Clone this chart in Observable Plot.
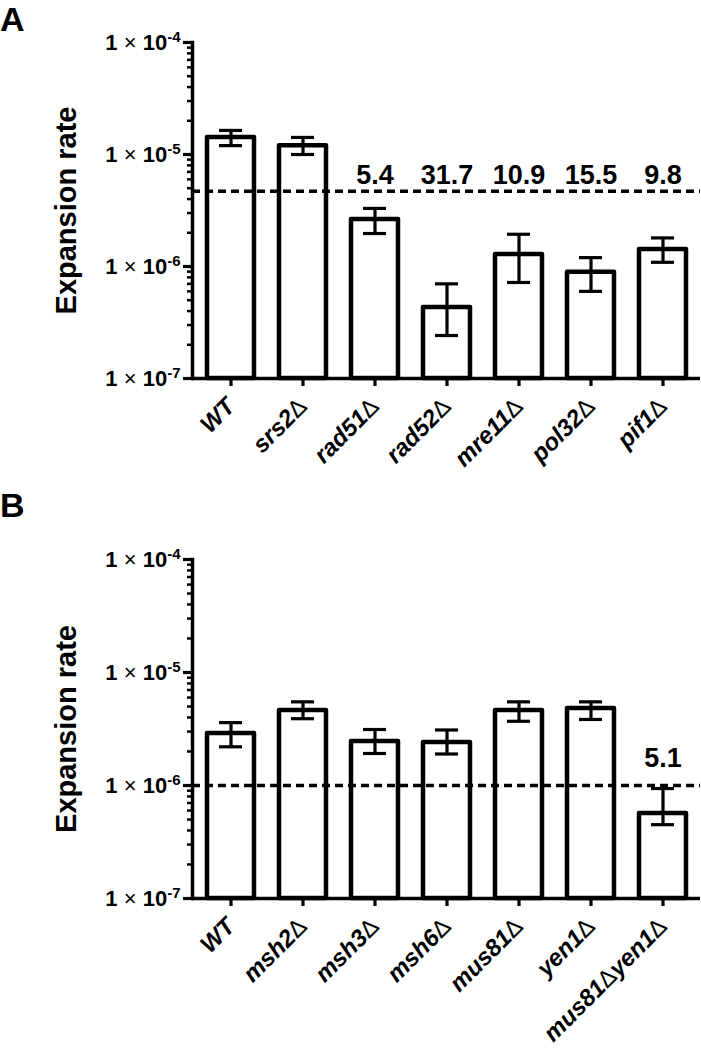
<!DOCTYPE html>
<html><head><meta charset="utf-8">
<script src="https://cdn.jsdelivr.net/npm/d3@7"></script>
<script src="https://cdn.jsdelivr.net/npm/@observablehq/plot@0.6"></script>
<style>
body{margin:0;background:#fff;}
#wrap{position:relative;width:701px;height:1050px;font-family:"Liberation Sans",Arial,sans-serif;overflow:hidden;}
.panel{position:absolute;left:0;}
.letter{position:absolute;left:0;font-family:"Liberation Sans",Arial,sans-serif;font-weight:bold;font-size:34px;line-height:normal;}
</style></head><body><div id="wrap"></div>
<script>
// ---- Panel A data ----
const strainsA = ["WT","srs2Δ","rad51Δ","rad52Δ","mre11Δ","pol32Δ","pif1Δ"];
const rateA    = [1.42e-5, 1.20e-5, 2.63e-6, 4.3e-7, 1.28e-6, 8.9e-7, 1.42e-6];
const lowA     = [1.20e-5, 1.00e-5, 1.97e-6, 2.42e-7, 7.2e-7, 6.0e-7, 1.09e-6];
const highA    = [1.64e-5, 1.42e-5, 3.30e-6, 7.0e-7, 1.94e-6, 1.20e-6, 1.80e-6];
const foldA    = ["", "", "5.4", "31.7", "10.9", "15.5", "9.8"];
const thresholdA = 4.7e-6;

// ---- Panel B data ----
const strainsB = ["WT","msh2Δ","msh3Δ","msh6Δ","mus81Δ","yen1Δ","mus81Δyen1Δ"];
const rateB    = [2.88e-6, 4.6e-6, 2.45e-6, 2.40e-6, 4.6e-6, 4.8e-6, 5.65e-7];
const lowB     = [2.20e-6, 3.9e-6, 1.92e-6, 1.90e-6, 3.7e-6, 3.84e-6, 4.5e-7];
const highB    = [3.60e-6, 5.5e-6, 3.13e-6, 3.10e-6, 5.5e-6, 5.5e-6, 9.4e-7];
const foldB    = ["", "", "", "", "", "", "5.1"];
const thresholdB = 1e-6;

// ---- axis ----
const yDomain = [1e-7, 1e-4];
const yTicks = [1e-7, 1e-6, 1e-5, 1e-4];
const yLabel = "Expansion rate";
const minorTicks = [];
for (const t of yTicks.slice(0, -1)) for (let m = 2; m <= 9; m++) minorTicks.push(m * t);

const FONT = '"Liberation Sans", Arial, sans-serif';

function makePanel(strains, rate, low, high, fold, threshold, opts) {
  const rows = strains.map((s, i) => ({strain: s, rate: rate[i], low: low[i], high: high[i], fold: fold[i]}));
  const svg = Plot.plot({
    width: 701, height: opts.height,
    marginLeft: 192, marginRight: 1, marginTop: opts.marginTop, marginBottom: opts.marginBottom,
    style: {fontFamily: FONT, background: "white", overflow: "visible", color: "black"},
    x: {domain: strains, paddingInner: 0.35, paddingOuter: 0.186},
    y: {type: "log", domain: yDomain},
    marks: [
      Plot.barY(rows, {x: "strain", y1: yDomain[0], y2: "rate", fill: "white", stroke: "black", strokeWidth: 4.5, strokeLinejoin: "round"}),
      Plot.ruleY([threshold], {stroke: "black", strokeWidth: 3.5, strokeDasharray: "8,5"}),
      Plot.ruleX(rows, {x: "strain", y1: "low", y2: "high", stroke: "black", strokeWidth: 3.2}),
      Plot.tickY(rows, {x: "strain", y: "low", insetLeft: 12, insetRight: 12, stroke: "black", strokeWidth: 3.2}),
      Plot.tickY(rows, {x: "strain", y: "high", insetLeft: 12, insetRight: 12, stroke: "black", strokeWidth: 3.2}),
      Plot.text(rows.filter(d => d.fold), {x: "strain", y: () => threshold, text: "fold", dy: opts.foldDy, lineAnchor: "bottom", fontSize: 27, fontWeight: "bold", fill: "black"}),
      Plot.ruleY([yDomain[0]], {stroke: "black", strokeWidth: 3.5}),
      Plot.frame({anchor: "left", stroke: "black", strokeWidth: 3.5}),
      Plot.axisY({ticks: minorTicks, tickSize: 5, tickFormat: () => "", label: null, strokeWidth: 2.5}),
      Plot.axisY({ticks: yTicks, tickSize: 9, tickPadding: 3, tickFormat: d => "1×10^" + Math.round(Math.log10(d)), label: null, strokeWidth: 3.2, fontSize: 22, fontWeight: "bold", fill: "black"}),
      Plot.axisX({tickSize: 8, tickPadding: 16, tickRotate: -45, label: null, strokeWidth: 3.2, fontSize: 24, fontWeight: "bold", fontStyle: "italic", fill: "black"}),
      Plot.text([yLabel], {frameAnchor: "left", dx: -137, rotate: -90, textAnchor: "middle", lineAnchor: "top", fontSize: 29, fontWeight: "bold", fill: "black"})
    ]
  });
  // superscript exponents
  d3.select(svg).selectAll('g[aria-label="y-axis tick label"] text').each(function () {
    const s = this.textContent; if (!s || s.indexOf("^") < 0) return;
    const exp = s.split("^")[1];
    const t = d3.select(this); t.text(null);
    t.attr("font-size", 22).attr("font-weight", "bold");
    t.append("tspan").text("1");
    t.append("tspan").attr("font-weight", "normal").text(" × ");
    t.append("tspan").text("10");
    t.append("tspan").attr("font-size", 15).attr("dy", "-0.5em").text(exp);
  });
  // Δ in upright regular weight
  d3.select(svg).selectAll('g[aria-label="x-axis tick label"] text').each(function () {
    const s = this.textContent; if (!s) return;
    const t = d3.select(this); t.text(null);
    t.attr("font-size", 24).attr("font-weight", "bold").attr("font-style", "italic");
    for (const part of s.split(/(Δ)/)) {
      if (!part) continue;
      const sp = t.append("tspan").text(part);
      if (part === "Δ") sp.attr("font-weight", "normal").attr("font-style", "normal");
    }
  });
  return svg;
}

const wrap = document.getElementById("wrap");
const svgA = makePanel(strainsA, rateA, lowA, highA, foldA, thresholdA, {height: 510, marginTop: 42, marginBottom: 132, foldDy: -7});
const svgB = makePanel(strainsB, rateB, lowB, highB, foldB, thresholdB, {height: 540, marginTop: 49, marginBottom: 152, foldDy: -19});
const dA = document.createElement("div"); dA.className = "panel"; dA.style.top = "0px"; dA.appendChild(svgA);
const dB = document.createElement("div"); dB.className = "panel"; dB.style.top = "510px"; dB.appendChild(svgB);
wrap.appendChild(dA); wrap.appendChild(dB);
const lA = document.createElement("div"); lA.className = "letter"; lA.style.top = "0px"; lA.textContent = "A";
const lB = document.createElement("div"); lB.className = "letter"; lB.style.top = "486px"; lB.textContent = "B";
wrap.appendChild(lA); wrap.appendChild(lB);
</script></body></html>
